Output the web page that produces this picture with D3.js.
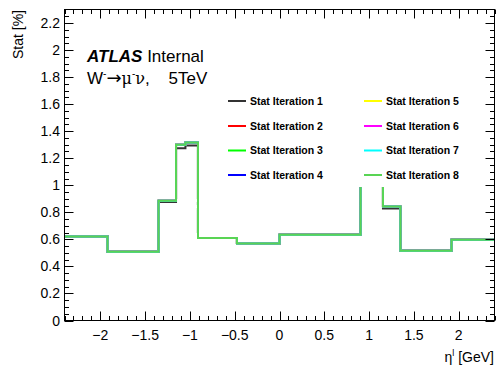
<!DOCTYPE html>
<html>
<head>
<meta charset="utf-8">
<script src="https://cdn.jsdelivr.net/npm/d3@7"></script>
<style>
  html, body { margin: 0; padding: 0; background: #fff; }
  svg { display: block; font-family: "Liberation Sans", Arial, sans-serif; }
</style>
</head>
<body>
<svg id="chart" width="500" height="369"></svg>
<script>
// ---- data ----
const binEdges = [-2.4, -1.92, -1.35, -1.155, -1.05, -0.91, -0.475, 0, 0.905, 1.05, 1.155, 1.35, 1.92, 2.4];
const seriesNames = ["Stat Iteration 1", "Stat Iteration 2", "Stat Iteration 3", "Stat Iteration 4",
                     "Stat Iteration 5", "Stat Iteration 6", "Stat Iteration 7", "Stat Iteration 8"];
const seriesColors = ["#000000", "#ff0000", "#00ff00", "#0000ff", "#ffff00", "#ff00ff", "#00ffff", "#59d454"];
const iter1 = [0.622, 0.509, 0.876, 1.274, 1.294, 0.610, 0.570, 0.635, 1.290, 1.270, 0.829, 0.515, 0.598];
const iter2 = [0.622, 0.509, 0.885, 1.300, 1.316, 0.610, 0.570, 0.635, 1.316, 1.300, 0.844, 0.515, 0.598];
const iter3 = [0.622, 0.509, 0.885, 1.300, 1.316, 0.610, 0.570, 0.635, 1.316, 1.300, 0.844, 0.515, 0.598];
const iter4 = [0.622, 0.509, 0.885, 1.300, 1.316, 0.610, 0.570, 0.635, 1.316, 1.300, 0.844, 0.515, 0.598];
const iter5 = [0.622, 0.509, 0.885, 1.300, 1.316, 0.610, 0.570, 0.635, 1.316, 1.300, 0.844, 0.515, 0.598];
const iter6 = [0.622, 0.509, 0.885, 1.300, 1.316, 0.610, 0.570, 0.635, 1.316, 1.300, 0.844, 0.515, 0.598];
const iter7 = [0.622, 0.509, 0.885, 1.300, 1.316, 0.610, 0.570, 0.635, 1.316, 1.300, 0.844, 0.515, 0.598];
const iter8 = [0.622, 0.509, 0.885, 1.300, 1.316, 0.610, 0.570, 0.635, 1.316, 1.300, 0.844, 0.515, 0.598];
const seriesValues = [iter1, iter2, iter3, iter4, iter5, iter6, iter7, iter8];
const xTicks = [-2, -1.5, -1, -0.5, 0, 0.5, 1, 1.5, 2];
const yTicks = [0, 0.2, 0.4, 0.6, 0.8, 1, 1.2, 1.4, 1.6, 1.8, 2, 2.2];

// ---- layout ----
const L = 64.5, R = 494.5, T = 9.5, B = 320.5;
const svg = d3.select("#chart");
const x = d3.scaleLinear().domain([-2.4, 2.4]).range([L, R]);
const y = d3.scaleLinear().domain([0, 2.3]).range([B, T]);

const fmt = v => {
  let s = d3.format("")(Math.round(v * 10) / 10);
  return s.replace("-", "\u2212");
};

// histograms
const line = d3.line().x(d => x(d[0])).y(d => y(d[1]));
seriesValues.forEach((vals, i) => {
  const pts = [];
  vals.forEach((v, k) => { pts.push([binEdges[k], v]); pts.push([binEdges[k + 1], v]); });
  svg.append("path").attr("d", line(pts)).attr("fill", "none")
    .attr("stroke", i === 0 ? "#333" : seriesColors[i]).attr("stroke-width", 2);
});

// frame
svg.append("rect").attr("x", L).attr("y", T).attr("width", R - L).attr("height", B - T)
  .attr("fill", "none").attr("stroke", "#000").attr("stroke-width", 1);

// ticks
const g = svg.append("g").attr("stroke", "#000").attr("stroke-width", 1);
const xMinor = d3.range(-24, 25).map(k => k / 10);
xMinor.forEach(v => {
  const major = Math.abs(v * 2 - Math.round(v * 2)) < 1e-6;
  const len = major ? 9 : 4.5;
  const px = Math.round(x(v)) + 0.5;
  g.append("line").attr("x1", px).attr("x2", px).attr("y1", B).attr("y2", B - len);
  g.append("line").attr("x1", px).attr("x2", px).attr("y1", T).attr("y2", T + len);
});
const yMinor = d3.range(0, 47).map(k => k * 0.05);
yMinor.forEach((v, k) => {
  const major = k % 4 === 0;
  const len = major ? 9 : 4.5;
  const py = Math.round(y(v)) + 0.5;
  g.append("line").attr("x1", L).attr("x2", L + len).attr("y1", py).attr("y2", py);
  g.append("line").attr("x1", R).attr("x2", R - len).attr("y1", py).attr("y2", py);
});

// tick labels
svg.append("g").selectAll("text").data(xTicks).join("text")
  .attr("x", d => x(d)).attr("y", 340).attr("text-anchor", "middle")
  .attr("font-size", 14).attr("fill", "#000").text(fmt);
svg.append("g").selectAll("text").data(yTicks).join("text")
  .attr("x", 60).attr("y", d => y(d) + 5).attr("text-anchor", "end")
  .attr("font-size", 14).attr("fill", "#000").text(fmt);

// axis titles
svg.append("text").attr("transform", "translate(23,10) rotate(-90)")
  .attr("text-anchor", "end").attr("font-size", 14).text("Stat [%]");
const xt = svg.append("text").attr("x", 494).attr("y", 362).attr("text-anchor", "end").attr("font-size", 14);
xt.append("tspan").text("\u03B7");
xt.append("tspan").attr("font-size", 9).attr("dy", -6).text("l");
xt.append("tspan").attr("dy", 6).text(" [GeV]");

// ATLAS label
const at = svg.append("text").attr("x", 87).attr("y", 62).attr("font-size", 17);
at.append("tspan").attr("font-weight", "bold").attr("font-style", "italic").text("ATLAS");
at.append("tspan").text(" Internal");
const pr = svg.append("text").attr("x", 87).attr("y", 84).attr("font-size", 17)
  .style("white-space", "pre");
pr.append("tspan").text("W");
pr.append("tspan").attr("font-size", 10).attr("dy", -7).text("-");
pr.append("tspan").attr("dy", 7).attr("font-family", "DejaVu Sans").attr("font-size", 18).text("\u2192");
pr.append("tspan").attr("font-family", "DejaVu Serif").attr("font-size", 16).text("\u03BC");
pr.append("tspan").attr("font-size", 10).attr("dy", -7).text("-");
pr.append("tspan").attr("dy", 7).attr("font-family", "DejaVu Serif").attr("font-size", 16).text("\u03BD");
pr.append("tspan").text(",    5TeV");

// legend
svg.append("rect").attr("x", 222).attr("y", 88).attr("width", 215).attr("height", 99).attr("fill", "#fff");
const rowsY = [101, 126, 150.5, 175];
seriesNames.forEach((name, i) => {
  const col = Math.floor(i / 4), row = i % 4;
  const lx = col === 0 ? 228 : 364;
  const ly = rowsY[row];
  svg.append("line").attr("x1", lx).attr("x2", lx + 18).attr("y1", ly).attr("y2", ly)
    .attr("stroke", i === 0 ? "#333" : seriesColors[i]).attr("stroke-width", 2);
  svg.append("text").attr("x", lx + 22).attr("y", ly + 3.5).attr("font-size", 10.5)
    .attr("font-weight", "bold").text(name);
});
</script>
</body>
</html>
